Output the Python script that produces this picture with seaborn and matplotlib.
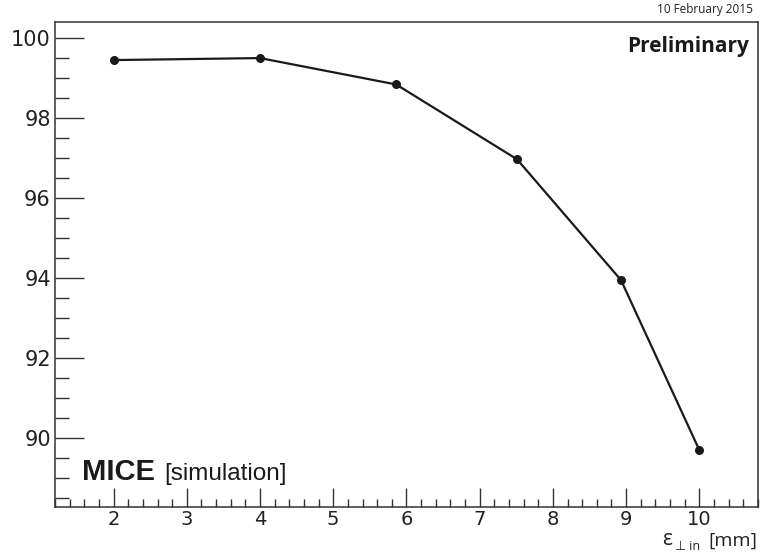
import numpy as np
import pandas as pd
import matplotlib
matplotlib.use("Agg")
import matplotlib.pyplot as plt
from matplotlib.ticker import MultipleLocator
import seaborn as sns

# input transverse emittance [mm] vs transmission-like quantity
emittance = [2.0, 4.0, 5.86, 7.51, 8.93, 10.0]
value = [99.45, 99.50, 98.84, 96.97, 93.95, 89.70]

df = pd.DataFrame({"emittance": emittance, "value": value})

sns.set_style("white")
plt.rcParams["font.family"] = ["DejaVu Sans"]

fig = plt.figure(figsize=(7.64, 5.52), dpi=100)
ax = fig.add_axes([0.072, 0.0815, 0.92, 0.8785])

sns.lineplot(data=df, x="emittance", y="value", ax=ax, color="#1a1a1a",
             linewidth=1.6, marker="o", markersize=6.5, markeredgewidth=0)

ax.set_xlim(1.2, 10.8)
ax.set_ylim(88.275, 100.4)

ax.xaxis.set_major_locator(MultipleLocator(1))
ax.xaxis.set_minor_locator(MultipleLocator(0.2))
ax.yaxis.set_major_locator(MultipleLocator(2))
ax.yaxis.set_minor_locator(MultipleLocator(0.5))

ax.tick_params(axis="x", which="major", direction="in", length=14, width=1,
               color="#333333", labelsize=14, pad=2, top=False, bottom=True)
ax.tick_params(axis="x", which="minor", direction="in", length=6, width=1,
               color="#333333", top=False, bottom=True)
ax.tick_params(axis="y", which="major", direction="in", length=21, width=1,
               color="#333333", labelsize=15, pad=3, left=True, right=False)
ax.tick_params(axis="y", which="minor", direction="in", length=10, width=1,
               color="#333333", left=True, right=False)
for lab in ax.get_xticklabels() + ax.get_yticklabels():
    lab.set_color("#222222")

for s in ax.spines.values():
    s.set_color("#333333")
    s.set_linewidth(1.1)

ax.set_xlabel("")
ax.set_ylabel("")

# x axis title, ROOT style at the far right under the ticks
lab_font = ["Open Sans", "DejaVu Sans"]
fig.text(0.867, 0.012, "ε", fontsize=15, ha="left", va="baseline",
         color="#222222", family=lab_font)
fig.text(0.884, 0.003, "⊥ in", fontsize=9, ha="left", va="baseline",
         color="#222222", family=lab_font)
fig.text(0.991, 0.012, "[mm]", fontsize=14, ha="right", va="baseline",
         color="#222222", family=lab_font)

ax.text(0.038, 0.055, "MICE", transform=ax.transAxes, fontsize=21,
        fontweight="bold", family=["Liberation Sans", "DejaVu Sans"],
        ha="left", va="baseline", color="#1a1a1a")
ax.text(0.156, 0.055, "[simulation]", transform=ax.transAxes, fontsize=17.5,
        family=["Liberation Sans", "DejaVu Sans"], ha="left", va="baseline",
        color="#1a1a1a")

ax.text(0.987, 0.972, "Preliminary", transform=ax.transAxes, fontsize=15,
        fontweight="bold", family=lab_font,
        ha="right", va="top", color="#1a1a1a")

fig.text(0.986, 0.982, "10 February 2015", fontsize=8.5, ha="right",
         va="center", family=lab_font, color="#222222")

fig.savefig("out.png", dpi=100)
